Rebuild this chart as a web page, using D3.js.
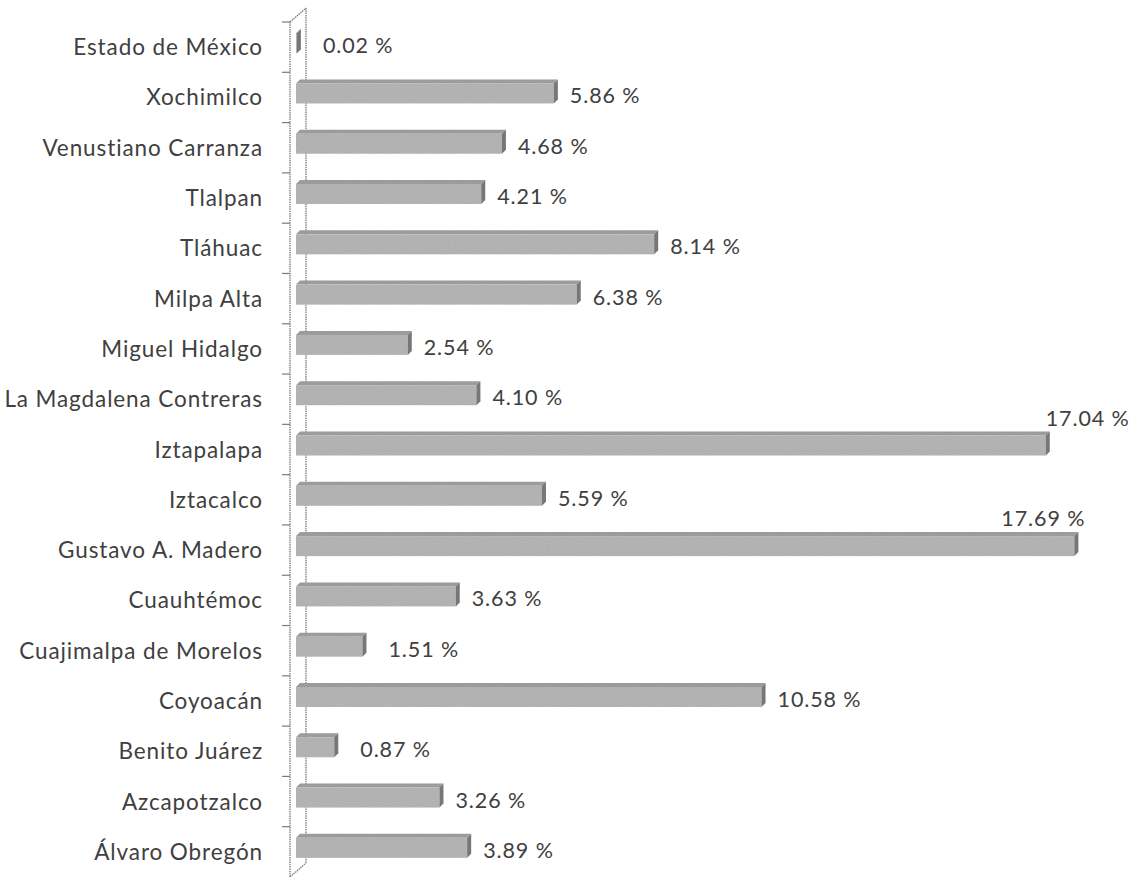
<!DOCTYPE html>
<html>
<head>
<meta charset="utf-8">
<script src="https://cdn.jsdelivr.net/npm/d3@7"></script>
<style>
  html, body { margin: 0; padding: 0; background: #ffffff; }
  svg { display: block; }
  text { font-family: Lato, "Open Sans", sans-serif; fill: #404040; letter-spacing: 0.9px; }
</style>
</head>
<body>
<svg id="chart" width="1134" height="877"></svg>
<script>
const categories = [
  "Estado de México", "Xochimilco", "Venustiano Carranza", "Tlalpan", "Tláhuac",
  "Milpa Alta", "Miguel Hidalgo", "La Magdalena Contreras", "Iztapalapa", "Iztacalco",
  "Gustavo A. Madero", "Cuauhtémoc", "Cuajimalpa de Morelos", "Coyoacán",
  "Benito Juárez", "Azcapotzalco", "Álvaro Obregón"
];
const values = [
  0.02, 5.86, 4.68, 4.21, 8.14,
  6.38, 2.54, 4.10, 17.04, 5.59,
  17.69, 3.63, 1.51, 10.58,
  0.87, 3.26, 3.89
];
const valueLabels = values.map(v => v.toFixed(2) + " %");

const W = 1134, H = 877;
const svg = d3.select("#chart");

const x = d3.scaleLinear().domain([0, 18]).range([296, 296 + 18 * 44]);
const y = d3.scaleBand().domain(categories).range([22, 877]).padding(0);

const depth = 4;      // bar 3D offset
const wallDx = 16, wallDy = -14;
const axisX = 290;

// wall / axis lines
const wall = svg.append("g").attr("stroke", "#7a7a7a").attr("stroke-width", 1.3)
  .attr("stroke-dasharray", "1.5,0.8").attr("fill", "none");
const [y0, y1] = y.range();
wall.append("line").attr("x1", axisX).attr("x2", axisX).attr("y1", y0).attr("y2", y1);
wall.append("line").attr("x1", axisX + wallDx).attr("x2", axisX + wallDx).attr("y1", y0 + wallDy).attr("y2", y1 + wallDy);
wall.append("line").attr("x1", axisX).attr("x2", axisX + wallDx).attr("y1", y0).attr("y2", y0 + wallDy);
wall.append("line").attr("x1", axisX).attr("x2", axisX + wallDx).attr("y1", y1).attr("y2", y1 + wallDy);

// ticks at band boundaries
const tickYs = categories.map(c => y(c));
svg.append("g").selectAll("line").data(tickYs).join("line")
  .attr("x1", axisX - 8).attr("x2", axisX).attr("y1", d => d).attr("y2", d => d)
  .attr("stroke", "#7a7a7a").attr("stroke-width", 1.2);

// noise filter for scanned texture
const defs = svg.append("defs");
const f = defs.append("filter").attr("id", "grain").attr("x", 0).attr("y", 0).attr("width", 1).attr("height", 1);
f.append("feTurbulence").attr("type", "fractalNoise").attr("baseFrequency", 0.9).attr("numOctaves", 1).attr("seed", 3).attr("result", "n");
f.append("feColorMatrix").attr("in", "n").attr("type", "matrix")
  .attr("values", "0 0 0 0 0  0 0 0 0 0  0 0 0 0 0  0 0 0 0.18 0").attr("result", "na");
f.append("feComposite").attr("in", "na").attr("in2", "SourceGraphic").attr("operator", "in").attr("result", "nb");
f.append("feMerge").selectAll("feMergeNode").data(["SourceGraphic", "nb"]).join("feMergeNode").attr("in", d => d);

const data = categories.map((c, i) => ({ c, v: values[i], label: valueLabels[i] }));

const bars = svg.append("g").selectAll("g").data(data).join("g").attr("filter", "url(#grain)");
bars.each(function(d) {
  const g = d3.select(this);
  const yc = y(d.c) + y.bandwidth() / 2;
  const top = yc - 14, bot = yc + 6;
  const xa = x(0), xb = x(d.v);
  // top face
  g.append("path")
    .attr("d", `M${xa},${top} L${xa + depth},${top - depth} L${xb + depth},${top - depth} L${xb},${top} Z`)
    .attr("fill", "#a3a3a3");
  // front face
  g.append("rect").attr("x", xa).attr("y", top).attr("width", Math.max(0.6, xb - xa)).attr("height", bot - top)
    .attr("fill", "#bababa");
  // end face
  g.append("path")
    .attr("d", `M${xb},${top} L${xb + depth},${top - depth} L${xb + depth},${bot - depth} L${xb},${bot} Z`)
    .attr("fill", "#7d7d7d");
});

// category labels
svg.append("g").selectAll("text").data(categories).join("text")
  .attr("x", 263).attr("y", d => y(d) + y.bandwidth() / 2 + 8)
  .attr("text-anchor", "end").attr("font-size", 22.5)
  .text(d => d);

// value labels
const vl = svg.append("g").selectAll("text").data(data).join("text")
  .attr("font-size", 21.5)
  .text(d => d.label);
vl.each(function(d) {
  const t = d3.select(this);
  const yc = y(d.c) + y.bandwidth() / 2;
  const xb = x(d.v) + depth;
  const w = this.getComputedTextLength();
  const gap = d.v < 2 ? 22 : 12;
  if (xb + gap + w > W - 4) {
    // does not fit to the right: place above the bar end
    const base = yc - 14 - depth - 6;
    if (x(d.v) + w < W - 4) {
      t.attr("x", x(d.v)).attr("y", base).attr("text-anchor", "start");
    } else {
      t.attr("x", xb + 7).attr("y", base).attr("text-anchor", "end");
    }
  } else {
    t.attr("x", xb + gap).attr("y", yc + 6).attr("text-anchor", "start");
  }
});
</script>
</body>
</html>
